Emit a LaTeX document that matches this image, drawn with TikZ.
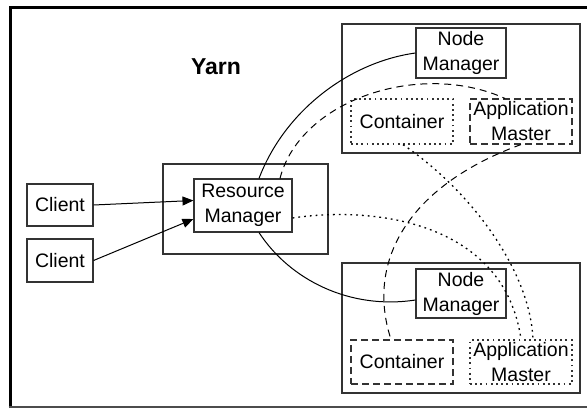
\documentclass[tikz,border=0pt]{standalone}
\usepackage{fontspec}
\setmainfont{Liberation Sans}
\usetikzlibrary{arrows.meta}
\begin{document}
\begin{tikzpicture}[x=1pt,y=-1pt,
  lbl/.style={font=\fontsize{19.5}{25}\selectfont, align=center, inner sep=0pt},
  box/.style={lbl, draw=black!80, line width=1.1pt, rectangle},
  grp/.style={draw=black!80, line width=1.1pt, rectangle, inner sep=0pt},
  dashbox/.style={box, dash pattern=on 7pt off 4pt},
  dotbox/.style={box, line width=1.3pt, dash pattern=on 1.8pt off 3.4pt},
  conn/.style={line width=1pt, black},
  dashc/.style={conn, dash pattern=on 7pt off 5pt},
  dotc/.style={conn, line width=1.3pt, dash pattern=on 1.8pt off 4pt},
  arr/.style={conn, -{Triangle[length=11pt,width=9pt]}}
]
\useasboundingbox (0,0) rectangle (587,408);
% frame
\draw[line width=3pt] (10,408) -- (10,7.5) -- (587,7.5);
\draw[line width=1.2pt, black!70] (8.5,407) -- (587,407);

\node[font=\fontsize{23}{26}\selectfont\bfseries, anchor=base, inner sep=0pt] (yarn) at (216,74) {Yarn};

% groups
\node[grp, minimum width=165pt, minimum height=90pt] (rmg) at (245.5,209) {};
\node[grp, minimum width=238pt, minimum height=129pt] (g1) at (461,88.5) {};
\node[grp, minimum width=238pt, minimum height=130pt] (g2) at (461,328) {};

% nodes
\node[box, minimum width=66pt, minimum height=42pt] (c1) at (60,205) {Client};
\node[box, minimum width=66pt, minimum height=43pt] (c2) at (60,260.5) {Client};
\node[box, minimum width=98pt, minimum height=53pt, fill=white] (rm) at (243,205.5) {Resource\\Manager};
\node[box, minimum width=90pt, minimum height=50pt] (nm1) at (461,53) {Node\\Manager};
\node[dotbox, minimum width=102pt, minimum height=45pt] (ct1) at (402,121.5) {Container};
\node[dashbox, minimum width=102pt, minimum height=45pt] (am1) at (521,121.5) {Application\\Master};
\node[box, minimum width=90pt, minimum height=49pt] (nm2) at (461,293.5) {Node\\Manager};
\node[dashbox, minimum width=102pt, minimum height=44pt] (ct2) at (402,362) {Container};
\node[dotbox, minimum width=102pt, minimum height=44pt] (am2) at (521,362) {Application\\Master};

% arrows from clients
\draw[arr] (c1.east) -- ([yshift=5pt]rm.west);
\draw[arr] (c2.east) -- ([yshift=-13.5pt]rm.west);

% solid curves
\draw[conn] ([xshift=16pt]rm.north) .. controls (285,110) and (350,62) .. (nm1.west);
\draw[conn] ([xshift=16pt]rm.south) .. controls (290,280) and (350,310) .. ([yshift=-6.5pt]nm2.west);

% dashed curves
\draw[dashc] ([xshift=37pt]rm.north) .. controls (300,100) and (420,60) .. ([xshift=-16pt]am1.north);
\draw[dashc] (am1.south) .. controls (410,185) and (365,260) .. ([xshift=-11pt]ct2.north);

% dotted curves
\draw[dotc] ([xshift=1pt]ct1.south) .. controls (470,190) and (530,270) .. ([xshift=12pt]am2.north);
\draw[dotc] ([yshift=-12.5pt]rm.east) .. controls (380,205) and (505,225) .. (am2.north);
\end{tikzpicture}
\end{document}
